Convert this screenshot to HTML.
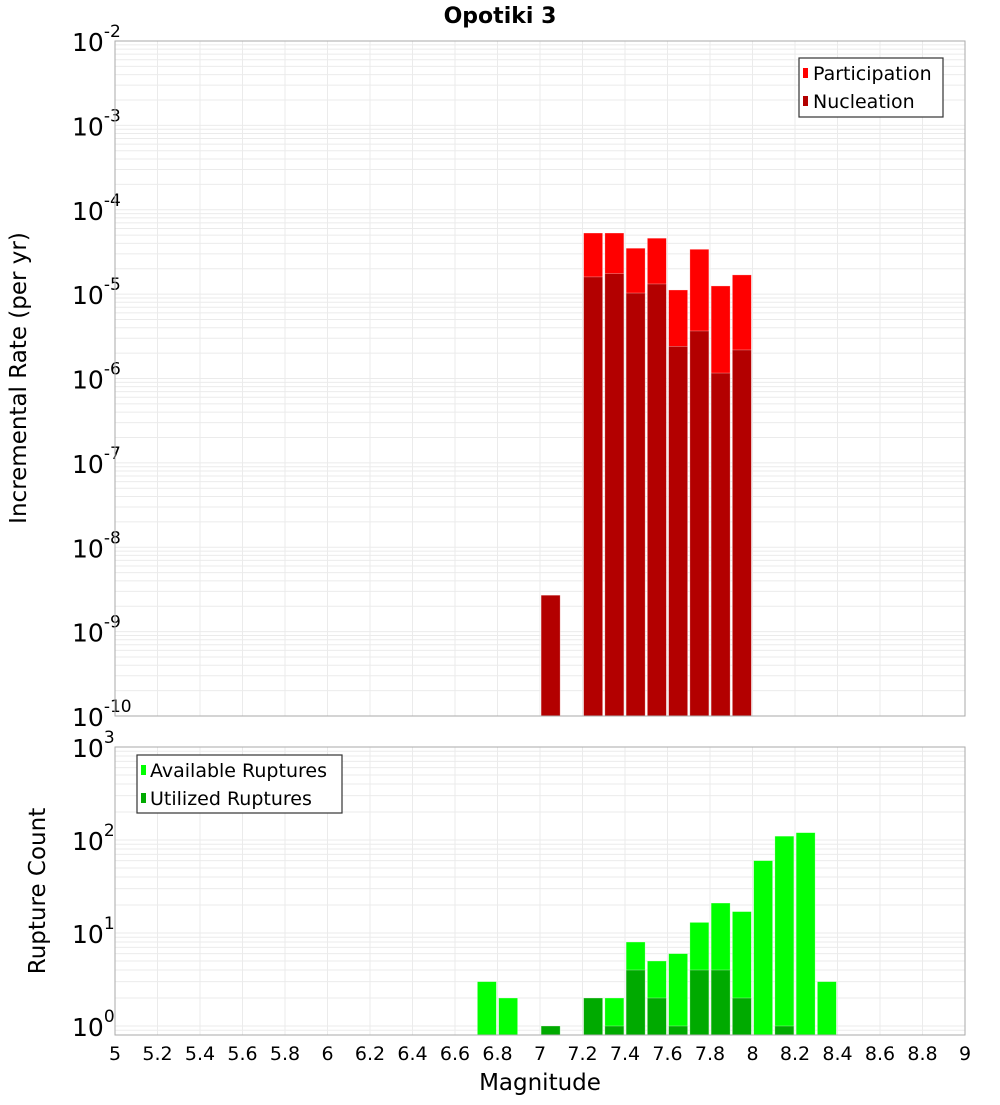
<!DOCTYPE html>
<html><head><meta charset="utf-8"><style>
body{margin:0;background:#fff;}
svg{font-family:"DejaVu Sans","Liberation Sans",sans-serif;}
</style></head><body>
<svg id="c" width="1000" height="1100" xmlns="http://www.w3.org/2000/svg"></svg>
<script>
const mags=[6.75,6.85,6.95,7.05,7.15,7.25,7.35,7.45,7.55,7.65,7.75,7.85,7.95,8.05,8.15,8.25,8.35];
const participation=[0,0,0,2.7e-9,0,5.3e-5,5.3e-5,3.5e-5,4.6e-5,1.12e-5,3.4e-5,1.25e-5,1.69e-5,0,0,0,0];
const nucleation=[0,0,0,2.7e-9,0,1.6e-5,1.75e-5,1.03e-5,1.32e-5,2.4e-6,3.66e-6,1.16e-6,2.18e-6,0,0,0,0];
const available=[3,2,0,1,0,2,2,8,5,6,13,21,17,60,110,120,3];
const utilized=[0,0,0,1,0,2,1,4,2,1,4,4,2,0,1,0,0];
const xTicks=[5,5.2,5.4,5.6,5.8,6,6.2,6.4,6.6,6.8,7,7.2,7.4,7.6,7.8,8,8.2,8.4,8.6,8.8,9];
const topExps=[-10,-9,-8,-7,-6,-5,-4,-3,-2];
const botExps=[0,1,2,3];

const svg=document.getElementById('c');
const NS='http://www.w3.org/2000/svg';
function mk(t,a,p){const e=document.createElementNS(NS,t);for(const k in a)e.setAttribute(k,a[k]);(p||svg).appendChild(e);return e;}
const X0=115,X1=965;
const xs=m=>X0+(m-5)/4*(X1-X0);
const T={top:41,bot:716,min:-10,max:-2};
const B={top:747,bot:1035,y0:1026,dec:93};
const yT=v=>T.bot-(Math.log10(v)-T.min)*(T.bot-T.top)/(T.max-T.min);
const yB=v=>B.y0-Math.log10(v)*B.dec;

function grid(g,top,bot,minE,maxE,yf){
  for(let e=minE;e<=maxE;e++)for(let k=1;k<10;k++){
    const y=yf(k*Math.pow(10,e)); if(y<top-0.5||y>bot+0.5)continue;
    const l=mk('line',{x1:X0,x2:X1,y1:y,y2:y,stroke:'#ebebeb','stroke-width':1},g);
    
    
  }
  xTicks.forEach(t=>{const x=xs(t);const l=mk('line',{x1:x,x2:x,y1:top,y2:bot,stroke:'#ebebeb','stroke-width':1},g);
    
    });
}
mk('text',{x:500,y:23,'text-anchor':'middle','font-size':22,'font-weight':'bold',}).textContent='Opotiki 3';

const gt=mk('g',{});
grid(gt,T.top,T.bot,-10,-3,yT);
function bars(g,vals,fill,yf,bot,name){
  vals.forEach((v,i)=>{if(v<=0)return;const x=xs(mags[i])-9.5;const y=yf(v);
    const r=mk('rect',{x:x,y:y,width:19,height:bot-y,fill:fill,stroke:'#fff','stroke-opacity':0.5,'stroke-width':0.6},g);
    
    });
}
bars(gt,participation,'#ff0000',yT,T.bot,'participation');
bars(gt,nucleation,'#b30000',yT,T.bot,'nucleation');
mk('rect',{x:X0,y:T.top,width:X1-X0,height:T.bot-T.top,fill:'none',stroke:'#aaa',});
topExps.forEach(e=>{const y=yT(Math.pow(10,e));
  const t=mk('text',{x:72,y:y+10,'font-size':25,},gt);
  t.innerHTML='10<tspan dy="-14" font-size="17">'+e+'</tspan>';});
mk('text',{x:26,y:378,'font-size':23,'text-anchor':'middle',transform:'rotate(-90 26 378)',}).textContent='Incremental Rate (per yr)';
const lg=mk('g',{});
mk('rect',{x:799,y:58,width:144,height:59,fill:'#fff',stroke:'#333','stroke-width':1.2},lg);
mk('rect',{x:803,y:68,width:5,height:10,fill:'#ff0000'},lg);
mk('text',{x:813,y:80,'font-size':19,},lg).textContent='Participation';
mk('rect',{x:803,y:96,width:5,height:10,fill:'#b30000'},lg);
mk('text',{x:813,y:108,'font-size':19,},lg).textContent='Nucleation';

const gb=mk('g',{});
grid(gb,B.top,B.bot,-1,2,yB);
bars(gb,available,'#00ff00',yB,B.bot,'available');
bars(gb,utilized,'#00aa00',yB,B.bot,'utilized');
mk('rect',{x:X0,y:B.top,width:X1-X0,height:B.bot-B.top,fill:'none',stroke:'#aaa',});
botExps.forEach(e=>{const y=yB(Math.pow(10,e));
  const t=mk('text',{x:72,y:y+10,'font-size':25,},gb);
  t.innerHTML='10<tspan dy="-14" font-size="17">'+e+'</tspan>';});
mk('text',{x:45,y:891,'font-size':23,'text-anchor':'middle',transform:'rotate(-90 45 891)',}).textContent='Rupture Count';
const lb=mk('g',{});
mk('rect',{x:137,y:755,width:205,height:58,fill:'#fff',stroke:'#333','stroke-width':1.2},lb);
mk('rect',{x:141,y:765,width:5,height:10,fill:'#00ff00'},lb);
mk('text',{x:150,y:777,'font-size':19,},lb).textContent='Available Ruptures';
mk('rect',{x:141,y:793,width:5,height:10,fill:'#00aa00'},lb);
mk('text',{x:150,y:805,'font-size':19,},lb).textContent='Utilized Ruptures';
xTicks.forEach(t=>{const e=mk('text',{x:xs(t),y:1060,'font-size':19,'text-anchor':'middle'});
  
  
  e.textContent=String(t);});
mk('text',{x:540,y:1090,'font-size':23,'text-anchor':'middle',}).textContent='Magnitude';
</script>
</body></html>
